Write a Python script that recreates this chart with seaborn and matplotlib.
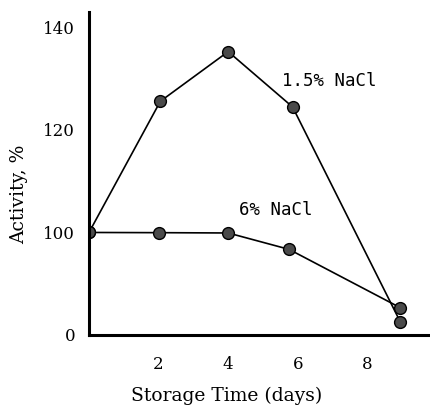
import numpy as np
import pandas as pd
import matplotlib
matplotlib.use("Agg")
import matplotlib.pyplot as plt
import seaborn as sns

# ---- data ----
days_15 = [0.0, 2.05, 4.0, 5.85, 8.95]
act_15 = [100.0, 125.6, 135.3, 124.5, 12.5]
days_6 = [0.0, 2.0, 4.0, 5.75, 8.95]
act_6 = [100.0, 99.8, 99.5, 83.5, 26.5]
xticks = [2, 4, 6, 8]
yticks = [0, 100, 120, 140]
series_names = ["1.5% NaCl", "6% NaCl"]

df = pd.concat([
    pd.DataFrame({"day": days_15, "activity": act_15, "series": series_names[0]}),
    pd.DataFrame({"day": days_6, "activity": act_6, "series": series_names[1]}),
])

sns.set_theme(style="white")
plt.rcParams["font.family"] = ["DejaVu Serif"]

fig = plt.figure(figsize=(4.30, 4.05), dpi=100)
ax = fig.add_axes([0.207, 0.173, 0.793, 0.797])

# broken (piecewise linear) y axis: 0-100 compressed, 100-143 stretched
K = 5.0
def fwd(v):
    v = np.asarray(v, dtype=float)
    return np.where(v <= 100, v, 100 + (v - 100) * K)
def inv(u):
    u = np.asarray(u, dtype=float)
    return np.where(u <= 100, u, 100 + (u - 100) / K)
ax.set_yscale("function", functions=(fwd, inv))

sns.lineplot(data=df, x="day", y="activity", hue="series", units="series",
             estimator=None, sort=False, palette=["black", "black"],
             marker="o", markersize=8.5, markerfacecolor="#4a4a4a",
             markeredgecolor="black", markeredgewidth=1.0, linewidth=1.2,
             legend=False, ax=ax)

ax.set_xlim(0, 9.8)
ax.set_ylim(0, 143)
ax.set_xticks(xticks)
ax.set_yticks(yticks)
ax.set_xticklabels([str(t) for t in xticks], fontsize=12)
ax.set_yticklabels([str(t) for t in yticks], fontsize=12)

for s in ["top", "right"]:
    ax.spines[s].set_visible(False)
for s in ["left", "bottom"]:
    ax.spines[s].set_color("black")
    ax.spines[s].set_linewidth(2.2)

ax.tick_params(axis="both", direction="in", length=8, width=1.2, color="black",
               labelcolor="black")
ax.tick_params(axis="x", pad=15)
ax.tick_params(axis="y", pad=10)
# no visible tick marks at 0 and 100 on y
for t, v in zip(ax.yaxis.get_major_ticks(), yticks):
    if v in (0, 100):
        t.tick1line.set_visible(False)
ax.grid(False)

ax.set_xlabel("Storage Time (days)", fontsize=13.5, color="black")
ax.xaxis.set_label_coords(0.405, -0.16)
ax.set_ylabel("Activity, %", fontsize=13.5, color="black")
ax.yaxis.set_label_coords(-0.18, 0.435)

ax.text(5.55, 129.6, series_names[0], fontsize=12.5, family="DejaVu Sans Mono",
        color="black", va="center", ha="left")
ax.text(4.3, 104.3, series_names[1], fontsize=12.5, family="DejaVu Sans Mono",
        color="black", va="center", ha="left")

fig.savefig("out.png", dpi=100, facecolor="white")
